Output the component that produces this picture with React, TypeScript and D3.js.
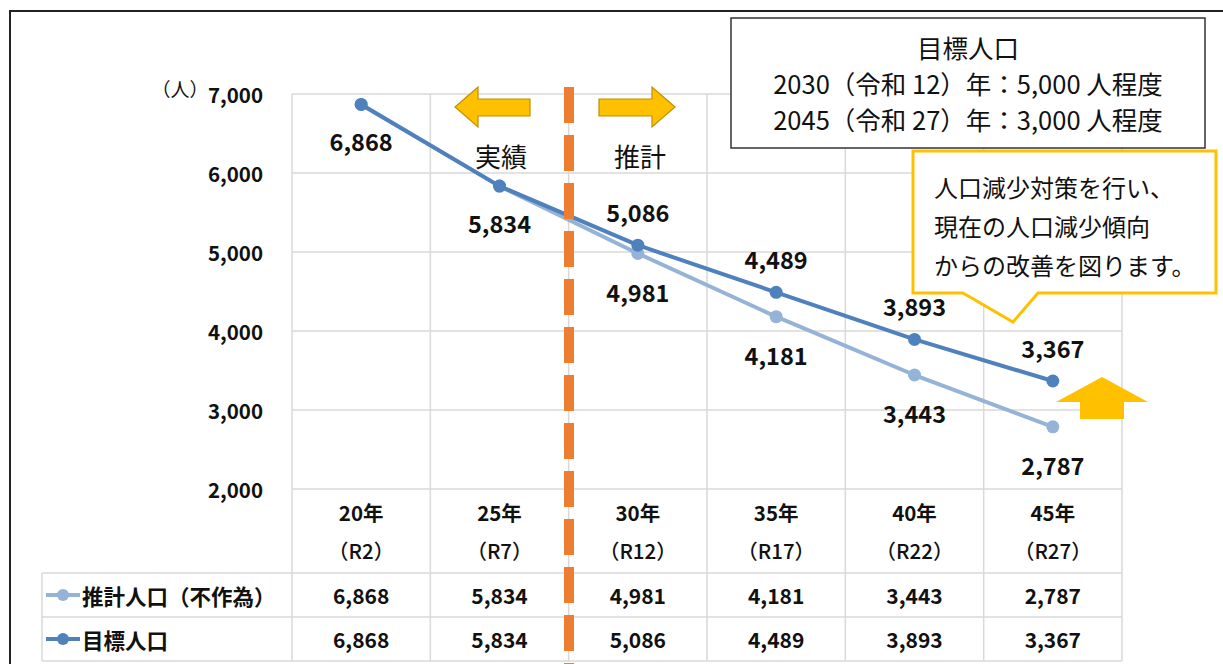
import { useEffect, useRef } from "react";
import * as d3 from "d3";

const categories = ["20年", "25年", "30年", "35年", "40年", "45年"];
const reiwaLabels = ["（R2）", "（R7）", "（R12）", "（R17）", "（R22）", "（R27）"];
const suikeiValues = [6868, 5834, 4981, 4181, 3443, 2787];
const mokuhyoValues = [6868, 5834, 5086, 4489, 3893, 3367];
const yTicks = [2000, 3000, 4000, 5000, 6000, 7000];
const seriesNames = ["推計人口（不作為）", "目標人口"];
const targetLines = ["目標人口", "2030（令和 12）年：5,000 人程度", "2045（令和 27）年：3,000 人程度"];
const calloutLines = ["人口減少対策を行い、", "現在の人口減少傾向", "からの改善を図ります。"];

const W = 1223;
const H = 664;
const font = "'Noto Sans CJK JP', 'Noto Sans', sans-serif";
const darkBlue = "#4F81BD";
const lightBlue = "#95B3D7";
const gridColor = "#d9d9d9";
const yellow = "#FFC000";

export default function App() {
  const svgRef = useRef<SVGSVGElement | null>(null);

  useEffect(() => {
    const svg = d3.select(svgRef.current);
    svg.selectAll("*").remove();
    svg.style("font-family", font);

    const x = d3.scaleBand<string>().domain(categories).range([292, 1122]);
    const y = d3.scaleLinear().domain([2000, 7000]).range([489, 94]);
    const cx = (c: string) => (x(c) as number) + x.bandwidth() / 2;

    // outer frame
    svg.append("path")
      .attr("d", `M10 ${H} L10 11 L${W} 11`)
      .attr("fill", "none").attr("stroke", "#222").attr("stroke-width", 2);

    // grid
    const grid = svg.append("g").attr("stroke", gridColor).attr("stroke-width", 1.5);
    grid.selectAll("line.h").data(yTicks).enter().append("line")
      .attr("x1", 292).attr("x2", 1122)
      .attr("y1", d => y(d)).attr("y2", d => y(d));
    const vBounds = categories.map(c => x(c) as number).concat([1122]);
    grid.selectAll("line.v").data(vBounds).enter().append("line")
      .attr("x1", d => d).attr("x2", d => d)
      .attr("y1", y(7000)).attr("y2", 661);

    // table rows
    const rowTop = 573, rowH = 44;
    [rowTop, rowTop + rowH, rowTop + 2 * rowH].forEach(ry => {
      grid.append("line").attr("x1", 42).attr("x2", 1122).attr("y1", ry).attr("y2", ry);
    });
    grid.append("line").attr("x1", 42).attr("x2", 42).attr("y1", rowTop).attr("y2", rowTop + 2 * rowH);

    // y axis labels
    svg.append("g").selectAll("text").data(yTicks).enter().append("text")
      .attr("x", 263).attr("y", d => y(d))
      .attr("text-anchor", "end").attr("dominant-baseline", "central")
      .attr("font-size", 20.5).attr("font-weight", 600).attr("fill", "#111")
      .text(d => d3.format(",")(d));
    svg.append("text").attr("x", 180).attr("y", 88)
      .attr("text-anchor", "middle").attr("dominant-baseline", "central")
      .attr("font-size", 19).attr("fill", "#111").text("（人）");

    // header labels
    const hdr = svg.append("g").attr("text-anchor", "middle").attr("font-size", 20.5)
      .attr("font-weight", 700).attr("fill", "#111");
    hdr.selectAll("text.c").data(categories).enter().append("text")
      .attr("x", d => cx(d)).attr("y", 512).attr("dominant-baseline", "central").text(d => d);
    hdr.selectAll("text.r").data(reiwaLabels).enter().append("text")
      .attr("x", (_, i) => cx(categories[i])).attr("y", 550)
      .attr("dominant-baseline", "central").attr("font-weight", 500).text(d => d);

    // table values + legend
    const rows = [suikeiValues, mokuhyoValues];
    const colors = [lightBlue, darkBlue];
    rows.forEach((vals, r) => {
      const ry = rowTop + rowH * r + rowH / 2;
      const g = svg.append("g");
      g.selectAll("text").data(vals).enter().append("text")
        .attr("x", (_, i) => cx(categories[i])).attr("y", ry)
        .attr("text-anchor", "middle").attr("dominant-baseline", "central")
        .attr("font-size", 21).attr("font-weight", 600).attr("fill", "#111")
        .text(d => d3.format(",")(d));
      g.append("line").attr("x1", 46).attr("x2", 80).attr("y1", ry).attr("y2", ry)
        .attr("stroke", colors[r]).attr("stroke-width", 4);
      g.append("circle").attr("cx", 63).attr("cy", ry).attr("r", 6).attr("fill", colors[r]);
      g.append("text").attr("x", 82).attr("y", ry).attr("dominant-baseline", "central")
        .attr("font-size", 21.5).attr("font-weight", 700).attr("fill", "#111")
        .text(seriesNames[r]);
    });

    // series lines
    const line = d3.line<number>()
      .x((_, i) => cx(categories[i]))
      .y(d => y(d));
    [suikeiValues, mokuhyoValues].forEach((vals, r) => {
      svg.append("path").datum(vals).attr("d", line)
        .attr("fill", "none").attr("stroke", colors[r]).attr("stroke-width", 4)
        .attr("stroke-linejoin", "round");
      svg.append("g").selectAll("circle").data(vals).enter().append("circle")
        .attr("cx", (_, i) => cx(categories[i])).attr("cy", d => y(d))
        .attr("r", 6.5).attr("fill", colors[r]);
    });

    // data labels
    const lbl = svg.append("g").attr("text-anchor", "middle").attr("font-size", 23.5)
      .attr("font-weight", 600).attr("fill", "#111");
    mokuhyoValues.forEach((v, i) => {
      const dy = i < 2 ? 37 : -33;
      lbl.append("text").attr("x", cx(categories[i])).attr("y", y(v) + dy)
        .attr("dominant-baseline", "central").text(d3.format(",")(v));
    });
    suikeiValues.forEach((v, i) => {
      if (i < 2) return;
      lbl.append("text").attr("x", cx(categories[i])).attr("y", y(v) + 38)
        .attr("dominant-baseline", "central").text(d3.format(",")(v));
    });

    // orange dashed divider
    svg.append("line").attr("x1", 569).attr("x2", 569).attr("y1", 87).attr("y2", H)
      .attr("stroke", "#ED7D31").attr("stroke-width", 10).attr("stroke-dasharray", "36 12");

    // left / right arrows
    svg.append("path")
      .attr("d", "M455 107 L478 87 L478 99 L530 99 L530 116 L478 116 L478 127 Z")
      .attr("fill", yellow).attr("stroke", "#BF9000").attr("stroke-width", 1.2);
    svg.append("path")
      .attr("d", "M675 107 L652 87 L652 99 L599 99 L599 116 L652 116 L652 127 Z")
      .attr("fill", yellow).attr("stroke", "#BF9000").attr("stroke-width", 1.2);
    svg.append("text").attr("x", 501).attr("y", 155).attr("text-anchor", "middle")
      .attr("dominant-baseline", "central").attr("font-size", 26).attr("fill", "#111").text("実績");
    svg.append("text").attr("x", 640).attr("y", 155).attr("text-anchor", "middle")
      .attr("dominant-baseline", "central").attr("font-size", 26).attr("fill", "#111").text("推計");

    // up arrow
    svg.append("path")
      .attr("d", "M1102 377 L1148 402 L1124 402 L1124 419 L1080 419 L1080 402 L1056 402 Z")
      .attr("fill", yellow);

    // target box
    svg.append("rect").attr("x", 731).attr("y", 18).attr("width", 474).attr("height", 130)
      .attr("fill", "#fff").attr("stroke", "#333").attr("stroke-width", 1.5);
    svg.append("g").selectAll("text").data(targetLines).enter().append("text")
      .attr("x", 968).attr("y", (_, i) => 46 + i * 36)
      .attr("text-anchor", "middle").attr("dominant-baseline", "central")
      .attr("font-size", 25.5).attr("fill", "#111").text(d => d);

    // callout
    svg.append("path")
      .attr("d", "M913 151 L1216 151 L1216 293 L1038 293 L1013 322 L963 293 L913 293 Z")
      .attr("fill", "#fff").attr("stroke", yellow).attr("stroke-width", 3);
    svg.append("g").selectAll("text").data(calloutLines).enter().append("text")
      .attr("x", 934).attr("y", (_, i) => 186 + i * 39)
      .attr("dominant-baseline", "central")
      .attr("font-size", 24).attr("fill", "#111").text(d => d);
  }, []);

  return (
    <svg ref={svgRef} width={W} height={H}
      style={{ position: "absolute", left: 0, top: 0, background: "#fff" }} />
  );
}
